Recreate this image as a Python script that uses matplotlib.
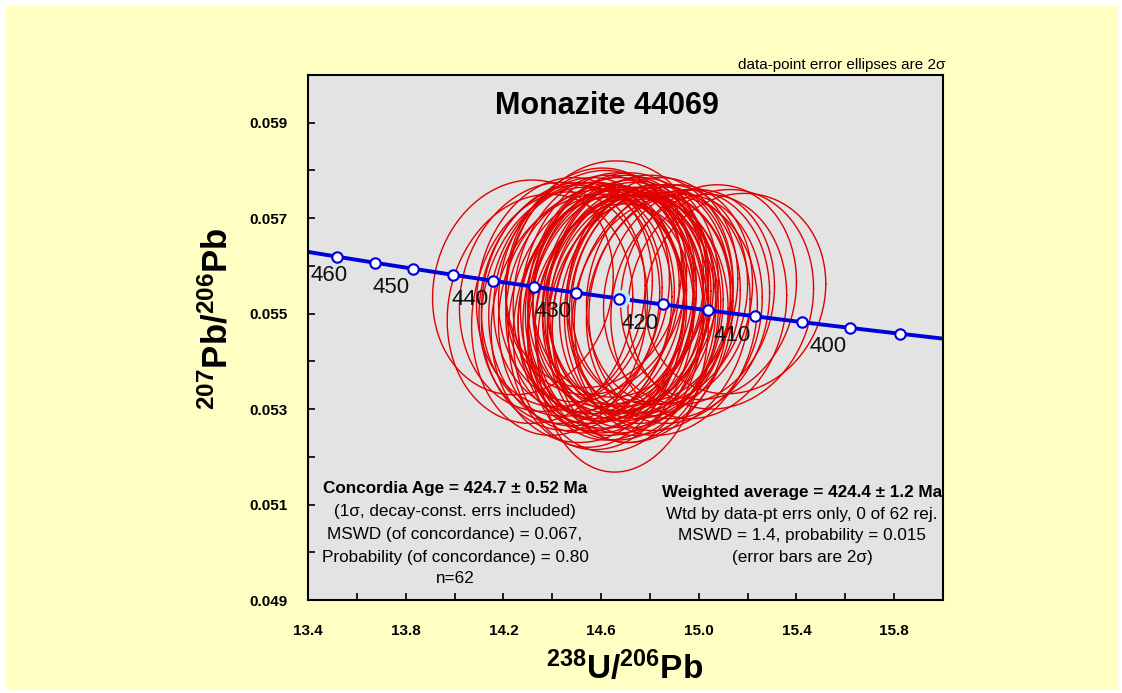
import numpy as np
import matplotlib.pyplot as plt
from matplotlib.patches import Rectangle, Ellipse

plt.rcParams['font.family'] = ['Liberation Sans', 'DejaVu Sans']
plt.rcParams['mathtext.fontset'] = 'custom'
plt.rcParams['mathtext.bf'] = 'Liberation Sans:bold'
plt.rcParams['mathtext.rm'] = 'Liberation Sans'

# decay constants (Isoplot defaults)
l238 = 1.55125e-10
l235 = 9.8485e-10
u_ratio = 137.88

# concordia tick ages (Ma)
marker_ages = [460, 455, 450, 445, 440, 435, 430, 425, 420, 415, 410, 405, 400, 395]
label_ages = [460, 450, 440, 430, 420, 410, 400]

# concordia age result
conc_age = 424.7
conc_err_x = 0.03
conc_err_y = 0.00016

# data-point ellipses (centres, 2 sigma half widths)
cx = [14.28, 14.69, 15.15, 15.09, 14.62, 14.45, 14.52, 14.58, 14.60, 14.63,
      14.65, 14.67, 14.70, 14.72, 14.74, 14.76, 14.78, 14.80, 14.55, 14.57,
      14.61, 14.64, 14.68, 14.71, 14.73, 14.50, 14.48, 14.59, 14.66, 14.69,
      14.75, 14.82, 14.85, 14.88, 14.92, 14.96, 15.00, 14.40, 14.43, 14.47,
      14.53, 14.56, 14.62, 14.66, 14.70, 14.77, 14.81, 14.86, 14.90, 14.60,
      14.64, 14.67, 14.72, 14.58, 14.54, 14.79, 14.84, 14.63, 14.69, 14.74,
      14.35, 15.04]
cy = [0.05555, 0.05458, 0.05542, 0.05530, 0.05555, 0.05545, 0.05520, 0.05565, 0.05500, 0.05535,
      0.05510, 0.05550, 0.05490, 0.05525, 0.05505, 0.05540, 0.05515, 0.05530, 0.05490, 0.05575,
      0.05480, 0.05520, 0.05560, 0.05500, 0.05545, 0.05510, 0.05530, 0.05540, 0.05470, 0.05515,
      0.05485, 0.05525, 0.05505, 0.05540, 0.05520, 0.05535, 0.05515, 0.05535, 0.05500, 0.05520,
      0.05550, 0.05505, 0.05525, 0.05495, 0.05535, 0.05500, 0.05550, 0.05495, 0.05510, 0.05520,
      0.05545, 0.05505, 0.05520, 0.05485, 0.05535, 0.05520, 0.05540, 0.05505, 0.05535, 0.05490,
      0.05510, 0.05545]
ex = [0.37, 0.35, 0.37, 0.38, 0.41, 0.36, 0.38, 0.37, 0.34, 0.36,
      0.39, 0.35, 0.37, 0.33, 0.36, 0.38, 0.35, 0.34, 0.40, 0.36,
      0.37, 0.34, 0.36, 0.38, 0.35, 0.39, 0.37, 0.35, 0.36, 0.33,
      0.37, 0.35, 0.36, 0.34, 0.37, 0.35, 0.36, 0.38, 0.36, 0.37,
      0.35, 0.38, 0.33, 0.36, 0.34, 0.37, 0.35, 0.38, 0.36, 0.39,
      0.34, 0.37, 0.35, 0.36, 0.38, 0.34, 0.36, 0.35, 0.37, 0.34,
      0.38, 0.36]
ey = [0.00225, 0.00290, 0.00210, 0.00230, 0.00265, 0.00240, 0.00255, 0.00235, 0.00245, 0.00260,
      0.00250, 0.00240, 0.00255, 0.00230, 0.00245, 0.00250, 0.00235, 0.00240, 0.00260, 0.00230,
      0.00265, 0.00245, 0.00235, 0.00250, 0.00240, 0.00255, 0.00245, 0.00250, 0.00260, 0.00235,
      0.00255, 0.00240, 0.00250, 0.00230, 0.00240, 0.00225, 0.00235, 0.00240, 0.00255, 0.00250,
      0.00235, 0.00255, 0.00245, 0.00260, 0.00240, 0.00255, 0.00235, 0.00250, 0.00240, 0.00250,
      0.00240, 0.00260, 0.00245, 0.00265, 0.00240, 0.00250, 0.00230, 0.00255, 0.00245, 0.00260,
      0.00240, 0.00225]
rho = 0.1

left_text = ['Concordia Age = 424.7 \u00b1 0.52 Ma',
             '(1\u03c3, decay-const. errs included)',
             'MSWD (of concordance) = 0.067,',
             'Probability (of concordance) = 0.80',
             'n=62']
right_text = ['Weighted average = 424.4 \u00b1 1.2 Ma',
              'Wtd by data-pt errs only, 0 of 62 rej.',
              'MSWD = 1.4, probability = 0.015',
              '(error bars are 2\u03c3)']


def tw(t_ma):
    t = np.asarray(t_ma, dtype=float) * 1e6
    e8 = np.exp(l238 * t) - 1
    e5 = np.exp(l235 * t) - 1
    return 1 / e8, e5 / e8 / u_ratio


fig = plt.figure(figsize=(11.22, 6.93), dpi=100)
fig.patch.set_facecolor('white')
fig.patches.append(Rectangle((6 / 1122, 3 / 693), 1112 / 1122, 684 / 693,
                             transform=fig.transFigure, facecolor='#FFFFC4',
                             edgecolor='none', zorder=-10))

ax = fig.add_axes([308 / 1122, 93 / 693, 635 / 1122, 525 / 693])
ax.set_facecolor('#E3E3E3')
ax.set_xlim(13.4, 16.0)
ax.set_ylim(0.049, 0.060)

# error ellipses
th = np.linspace(0, 2 * np.pi, 300)
for i in range(len(cx)):
    xe = cx[i] + ex[i] * np.cos(th)
    ye = cy[i] + ey[i] * (rho * np.cos(th) + np.sqrt(1 - rho ** 2) * np.sin(th))
    ax.plot(xe, ye, color='#E00000', lw=1.0, zorder=2)

# concordia curve
tc = np.linspace(380, 480, 400)
xc, yc = tw(tc)
ax.plot(xc, yc, color='#0000DD', lw=2.8, zorder=3)

# concordia age ellipse
ca_x, ca_y = tw(conc_age)
ax.add_patch(Ellipse((ca_x, ca_y), 2 * conc_err_x, 2 * conc_err_y,
                     facecolor='#A8E4FF', edgecolor='#C8EEFF', lw=1.5, zorder=3.5))

xm, ym = tw(marker_ages)
ax.plot(xm, ym, 'o', ms=7.5, mfc='white', mec='#0000DD', mew=1.5, zorder=4)

for a in label_ages:
    xa, ya = tw(a)
    if a == 460:
        # first label is kept inside the frame
        ax.annotate(str(a), (13.4, ya), xytext=(2, -6), textcoords='offset points',
                    ha='left', va='top', fontsize=16, color='#111111', zorder=5)
    else:
        ax.annotate(str(a), (xa, ya), xytext=(-3, -6), textcoords='offset points',
                    ha='right', va='top', fontsize=16, color='#111111', zorder=5)

# ticks
ax.set_xticks(np.arange(13.4, 16.01, 0.2), minor=True)
ax.set_xticks([13.4, 13.8, 14.2, 14.6, 15.0, 15.4, 15.8])
ax.set_xticklabels(['13.4', '13.8', '14.2', '14.6', '15.0', '15.4', '15.8'])
ax.set_yticks(np.arange(0.049, 0.0601, 0.001), minor=True)
ax.set_yticks([0.049, 0.051, 0.053, 0.055, 0.057, 0.059])
ax.set_yticklabels(['0.049', '0.051', '0.053', '0.055', '0.057', '0.059'])
ax.tick_params(which='both', direction='in', length=5, width=1.2, color='black')
ax.tick_params(axis='x', which='major', pad=17, labelsize=11)
ax.tick_params(axis='y', which='major', pad=15, labelsize=11)
ax.tick_params(which='both', top=False, right=False)
for lab in ax.get_xticklabels() + ax.get_yticklabels():
    lab.set_fontweight('bold')
for s in ax.spines.values():
    s.set_linewidth(1.5)
    s.set_zorder(6)

# axis titles
ax.text(0.498, -0.13, r'$\mathbf{^{238}U/^{206}Pb}$', transform=ax.transAxes,
        ha='center', va='center', fontsize=24)
ax.text(-0.143, 0.535, r'$\mathbf{^{207}Pb/^{206}Pb}$', transform=ax.transAxes,
        ha='center', va='center', fontsize=25, rotation=90)

ax.text(0.471, 0.94, 'Monazite 44069', transform=ax.transAxes, ha='center',
        va='center', fontsize=22, fontweight='bold', zorder=7)
ax.text(1.003, 1.006, 'data-point error ellipses are 2\u03c3', transform=ax.transAxes,
        ha='right', va='bottom', fontsize=11)

left_y = [0.2133, 0.1695, 0.1257, 0.0819, 0.0419]
for i, s in enumerate(left_text):
    ax.text(0.2315, left_y[i], s, transform=ax.transAxes, ha='center', va='center',
            fontsize=12.3, fontweight='bold' if i == 0 else 'normal', zorder=7)
right_y = [0.2057, 0.1638, 0.1238, 0.0819]
for i, s in enumerate(right_text):
    ax.text(0.778, right_y[i], s, transform=ax.transAxes, ha='center', va='center',
            fontsize=12.3, fontweight='bold' if i == 0 else 'normal', zorder=7)

fig.savefig('out.png', dpi=100, facecolor=fig.get_facecolor())
